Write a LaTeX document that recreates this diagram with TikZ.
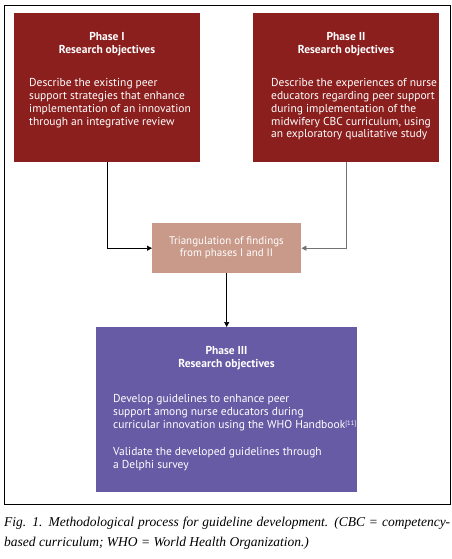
\documentclass[tikz,border=0pt]{standalone}
\usepackage{fontspec}
\setmainfont{Liberation Serif}
\newfontfamily\boxfont{PT Sans}
\usetikzlibrary{arrows.meta}
\definecolor{phred}{RGB}{139,31,30}
\definecolor{phtan}{RGB}{201,154,138}
\definecolor{phpurple}{RGB}{103,91,165}
\tikzset{
  box/.style={anchor=north west, inner sep=0pt, draw=none},
  ttl/.style={font=\boxfont\fontsize{11.5}{13}\selectfont\bfseries, text=white, align=center, inner sep=0pt},
  body/.style={font=\boxfont\fontsize{11.5}{12.9}\selectfont, text=white, align=left, inner sep=0pt, anchor=north west},
  conn/.style={line width=0.7pt, -{Triangle[length=5pt,width=5pt]}},
}
\begin{document}
\begin{tikzpicture}[x=1pt,y=-1pt]
\useasboundingbox (0,0) rectangle (452,559);
\draw[line width=0.8pt] (4,5) rectangle (450,504);
\node[box, fill=phred, minimum width=186pt, minimum height=149pt] (p1) at (14,13) {};
\node[box, fill=phred, minimum width=186pt, minimum height=149pt] (p2) at (253,13) {};
\node[box, fill=phtan, minimum width=149pt, minimum height=50pt] (tri) at (152,223) {};
\node[box, fill=phpurple, minimum width=261pt, minimum height=165pt] (p3) at (96,327) {};
\node[ttl] (p1t) at (107,44) {Phase I\\Research objectives};
\node[ttl] (p2t) at (346,44) {Phase II\\Research objectives};
\node[body] (p1b) at (29,78) {Describe the existing peer\\support strategies that enhance\\implementation of an innovation\\through an integrative review};
\node[body] (p2b) at (271,78) {Describe the experiences of nurse\\educators regarding peer support\\during implementation of the\\midwifery CBC curriculum, using\\an exploratory qualitative study};
\node[ttl, font=\boxfont\fontsize{11}{11.5}\selectfont] (trit) at (226.5,247.5) {Triangulation of findings\\from phases I and II};
\node[ttl] (p3t) at (226.5,358) {Phase III\\Research objectives};
\node[body, font=\boxfont\fontsize{11.5}{13.3}\selectfont] (p3b) at (113,394) {Develop guidelines to enhance peer\\support among nurse educators during\\curricular innovation using the WHO Handbook\raisebox{3.5pt}{\fontsize{6.5}{6.5}\selectfont[11]}\\[13.3pt]Validate the developed guidelines through\\a Delphi survey};
\draw[conn] (p1.south) |- (tri.west);
\draw[conn, draw=black!55] (p2.south) |- (tri.east);
\draw[conn] (tri.south) -- (p3.north);
\node[anchor=base west, inner sep=0pt, font=\fontsize{13.5}{15}\selectfont\itshape] (cap1) at (4,526) {\makebox[446pt][s]{Fig. 1. Methodological process for guideline development. (CBC = competency-}};
\node[anchor=base west, inner sep=0pt, font=\fontsize{13.5}{15}\selectfont\itshape] (cap2) at (4,546) {based curriculum; WHO = World Health Organization.)};
\end{tikzpicture}
\end{document}
